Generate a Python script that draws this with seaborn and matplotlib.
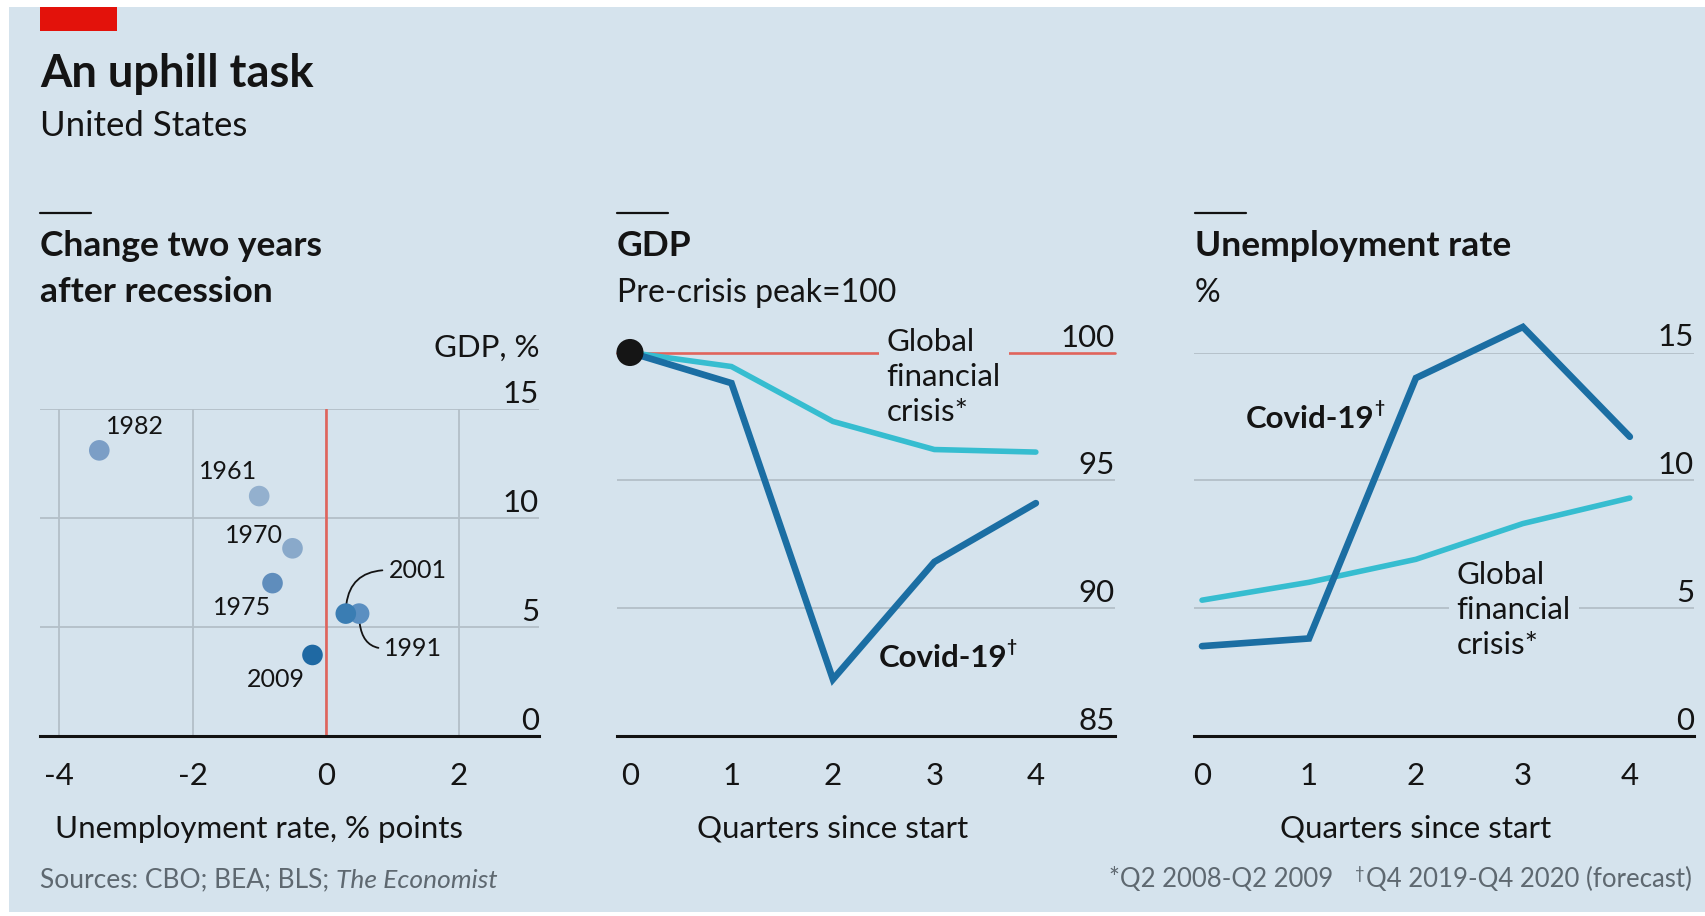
import matplotlib
matplotlib.use('Agg')
import matplotlib.pyplot as plt
import matplotlib.transforms as mtransforms
from matplotlib.patches import Rectangle
from matplotlib.lines import Line2D
import seaborn as sns
import pandas as pd


# --- 1. Data ---
RECESSION_YEARS = [1961, 1970, 1975, 1982, 1991, 2001, 2009]
UNEMP_CHANGE = [-1.0, -0.5, -0.8, -3.4, 0.5, 0.3, -0.2]
GDP_CHANGE = [11.0, 8.6, 7.0, 13.1, 5.6, 5.6, 3.7]

QUARTERS = [0, 1, 2, 3, 4]
GDP_COVID = [100.0, 98.8, 87.2, 91.8, 94.1]
GDP_GFC = [100.0, 99.45, 97.3, 96.2, 96.1]
UNEMP_COVID = [3.5, 3.8, 14.0, 16.0, 11.7]
UNEMP_GFC = [5.3, 6.0, 6.9, 8.3, 9.3]

SCATTER_XTICKS = [-4, -2, 0, 2]
SCATTER_XLABELS = ['-4', '-2', '0', '2']
SCATTER_YTICKS = [0, 5, 10, 15]
GDP_YTICKS = [85, 90, 95, 100]
UNEMP_YTICKS = [0, 5, 10, 15]

# --- 2. Style ---
BG = '#d5e3ed'
TEXT = '#141414'
GREY_TEXT = '#5e6870'
GRID = '#b3bfc8'
AXIS = '#121212'
RED = '#e3120b'
RED_LINE = '#e0645c'
COVID = '#1b6ea3'
GFC = '#36bdd0'
YEAR_COLOURS = {1961: '#93b0ce', 1970: '#89a9ca', 1975: '#5f8dbc', 1982: '#7b9ec6',
                1991: '#5b8fc1', 2001: '#3a7db3', 2009: '#1f69a3'}
# where each year label sits (data coords), text left-centre
YEAR_LABEL_POS = {1982: (-3.30, 14.2), 1961: (-1.91, 12.15), 1970: (-1.51, 9.2),
                  1975: (-1.69, 5.9), 2009: (-1.19, 2.55), 2001: (0.94, 7.6), 1991: (0.88, 4.0)}

sns.set_style('white')
plt.rcParams['font.family'] = ['Lato', 'DejaVu Sans']
plt.rcParams['axes.unicode_minus'] = False

W, H = 1706, 916
TICK_FS = 22.5
LABEL_FS = 22.5
NOTE_FS = 19
PT = 0.72  # points per pixel at dpi 100

fig = plt.figure(figsize=(W / 100, H / 100), dpi=100, facecolor='white')
fig.patches.append(Rectangle((9 / W, 4 / H), 1 - 9 / W, 1 - 11 / H, transform=fig.transFigure,
                             facecolor=BG, edgecolor='none', zorder=-10))
fig.patches.append(Rectangle((40 / W, 1 - 31 / H), 77 / W, 24 / H, transform=fig.transFigure,
                             facecolor=RED, edgecolor='none'))


def px_rect(left, right, top, bottom):
    return [left / W, 1 - bottom / H, (right - left) / W, (bottom - top) / H]


def style_axes(ax, xticks, xlabels, yticks, tick_len, pad):
    ax.set_facecolor('none')
    for s in ['left', 'right', 'top']:
        ax.spines[s].set_visible(False)
    ax.spines['bottom'].set_color(AXIS)
    ax.spines['bottom'].set_linewidth(2.2)
    ax.spines['bottom'].set_zorder(5)
    ax.set_xticks(xticks)
    ax.set_xticklabels(xlabels)
    ax.set_yticks(yticks)
    ax.tick_params(axis='y', length=0, labelleft=False)
    ax.tick_params(axis='x', length=tick_len, width=1.6, color=AXIS, pad=pad,
                   labelsize=TICK_FS, labelcolor=TEXT)
    ax.grid(axis='y', color=GRID, lw=1.3)
    ax.set_axisbelow(True)
    ax.set_xlabel('')
    ax.set_ylabel('')
    trans = mtransforms.offset_copy(ax.get_yaxis_transform(), fig=fig, y=6, units='dots')
    for t in yticks:
        ax.text(1, t, str(t), transform=trans, ha='right', va='baseline',
                fontsize=TICK_FS, color=TEXT)


def x_label(ax, x, text):
    ax.annotate(text, xy=(x, 0), xycoords=ax.get_xaxis_transform(),
                xytext=(0, -(838 - 735.5) * PT), textcoords='offset points',
                ha='center', va='baseline', fontsize=LABEL_FS, color=TEXT)


def covid_label(ax, x, y):
    t = ax.text(x, y, 'Covid-19', ha='left', va='baseline', fontsize=LABEL_FS,
                fontweight='bold', color=TEXT, zorder=6)
    ax.annotate('\u2020', xy=(1, 1), xycoords=t, xytext=(-0.5, 3), textcoords='offset points',
                ha='left', va='top', fontsize=12.5, fontweight='bold', color=TEXT)


def gfc_label(ax, x, y):
    ax.text(x, y, 'Global\nfinancial\ncrisis*', ha='left', va='top', fontsize=LABEL_FS,
            color=TEXT, linespacing=1.3, zorder=1.5,
            bbox=dict(boxstyle='square,pad=0.25', facecolor=BG, edgecolor='none'))


# --- 3. Left panel: change two years after recession ---
ax1 = fig.add_axes(px_rect(40, 539, 409, 735.5))
scatter_df = pd.DataFrame({'year': RECESSION_YEARS, 'unemp': UNEMP_CHANGE, 'gdp': GDP_CHANGE})
sns.scatterplot(data=scatter_df, x='unemp', y='gdp', hue='year', palette=YEAR_COLOURS,
                s=220, edgecolor='none', legend=False, zorder=4, ax=ax1)
ax1.set_xlim(-4.29, 3.2)
ax1.set_ylim(0, 15)
style_axes(ax1, SCATTER_XTICKS, SCATTER_XLABELS, SCATTER_YTICKS, 0, 19)
ax1.grid(axis='x', color=GRID, lw=1.3)
ax1.axvline(0, color=RED_LINE, lw=1.9, zorder=1)
ax1.annotate('GDP, %', xy=(1, 1), xycoords='axes fraction', xytext=(0, 52 * PT),
             textcoords='offset points', ha='right', va='baseline', fontsize=TICK_FS, color=TEXT)
for yr, ux, gy in zip(RECESSION_YEARS, UNEMP_CHANGE, GDP_CHANGE):
    lx, ly = YEAR_LABEL_POS[yr]
    if yr in (2001, 1991):
        ax1.annotate(str(yr), xy=(ux, gy), xytext=(lx, ly), ha='left', va='center',
                     fontsize=18, color=TEXT,
                     arrowprops=dict(arrowstyle='-', color=TEXT, lw=1.3, relpos=(0, 0.5),
                                     shrinkA=2, shrinkB=7,
                                     connectionstyle='angle3,angleA=0,angleB=90'))
    else:
        ax1.text(lx, ly, str(yr), ha='left', va='center', fontsize=18, color=TEXT)
x_label(ax1, -1.0, 'Unemployment rate, % points')

# --- 4. Middle panel: GDP ---
ax2 = fig.add_axes(px_rect(617, 1115, 352.5, 735.5))
sns.lineplot(x=QUARTERS, y=GDP_GFC, color=GFC, lw=4.0, ax=ax2, zorder=2)
sns.lineplot(x=QUARTERS, y=GDP_COVID, color=COVID, lw=4.8, ax=ax2, zorder=3)
sns.scatterplot(x=QUARTERS[:1], y=GDP_COVID[:1], color='#151515', s=380, edgecolor='none',
                zorder=4, ax=ax2)
ax2.set_xlim(-0.128, 4.78)
ax2.set_ylim(85, 100)
style_axes(ax2, QUARTERS, [str(q) for q in QUARTERS], GDP_YTICKS, 9.4, 10)
ax2.axhline(100, color=RED_LINE, lw=1.9, zorder=1)
gfc_label(ax2, 2.53, 100.96)
covid_label(ax2, 2.45, 87.7)
x_label(ax2, 2, 'Quarters since start')

# --- 5. Right panel: unemployment rate ---
ax3 = fig.add_axes(px_rect(1194, 1694, 352.5, 735.5))
sns.lineplot(x=QUARTERS, y=UNEMP_GFC, color=GFC, lw=4.0, ax=ax3, zorder=2)
sns.lineplot(x=QUARTERS, y=UNEMP_COVID, color=COVID, lw=4.8, ax=ax3, zorder=3)
ax3.set_xlim(-0.075, 4.6)
ax3.set_ylim(0, 15)
style_axes(ax3, QUARTERS, [str(q) for q in QUARTERS], UNEMP_YTICKS, 9.4, 10)
gfc_label(ax3, 2.38, 6.82)
covid_label(ax3, 0.41, 12.06)
x_label(ax3, 2, 'Quarters since start')

for ax in (ax2, ax3):
    for line in ax.lines:
        line.set_clip_on(False)
        line.set_solid_joinstyle('miter')
    for coll in ax.collections:
        coll.set_clip_on(False)

# --- 6. Titles and footnotes ---
fig.text(40 / W, 1 - 87 / H, 'An uphill task', fontsize=32.5, fontweight='bold', color=TEXT)
fig.text(40 / W, 1 - 136 / H, 'United States', fontsize=25, color=TEXT)

for x0, lines, sub in [(40, ['Change two years', 'after recession'], None),
                       (617, ['GDP'], 'Pre-crisis peak=100'),
                       (1195, ['Unemployment rate'], '%')]:
    fig.add_artist(Line2D([x0 / W, (x0 + 51) / W], [1 - 213 / H] * 2, color=AXIS, lw=1.6))
    for i, txt in enumerate(lines):
        fig.text(x0 / W, 1 - (256 + 46 * i) / H, txt, fontsize=25.5, fontweight='bold',
                 color=TEXT, va='baseline')
    if sub:
        fig.text(x0 / W, 1 - 302 / H, sub, fontsize=23, color=TEXT, va='baseline')

src = fig.text(40 / W, 1 - 887 / H, 'Sources: CBO; BEA; BLS; ', fontsize=NOTE_FS,
               color=GREY_TEXT, va='baseline')
ax1.annotate('The Economist', xy=(1, 0), xycoords=src, ha='left', va='bottom',
             fontsize=NOTE_FS, color=GREY_TEXT, style='italic', annotation_clip=False)
note = fig.text(1692 / W, 1 - 887 / H, 'Q4 2019-Q4 2020 (forecast)', fontsize=18.5,
                color=GREY_TEXT, ha='right', va='baseline')
ax3.annotate('\u2020', xy=(0, 1), xycoords=note, xytext=(-1, 1), textcoords='offset points',
             ha='right', va='top', fontsize=12, color=GREY_TEXT, annotation_clip=False)
ax3.annotate('*Q2 2008-Q2 2009', xy=(0, 0), xycoords=note, xytext=(-24, 0),
             textcoords='offset points', ha='right', va='bottom', fontsize=18.5,
             color=GREY_TEXT, annotation_clip=False)

plt.savefig('out.png', dpi=100, facecolor='white')
